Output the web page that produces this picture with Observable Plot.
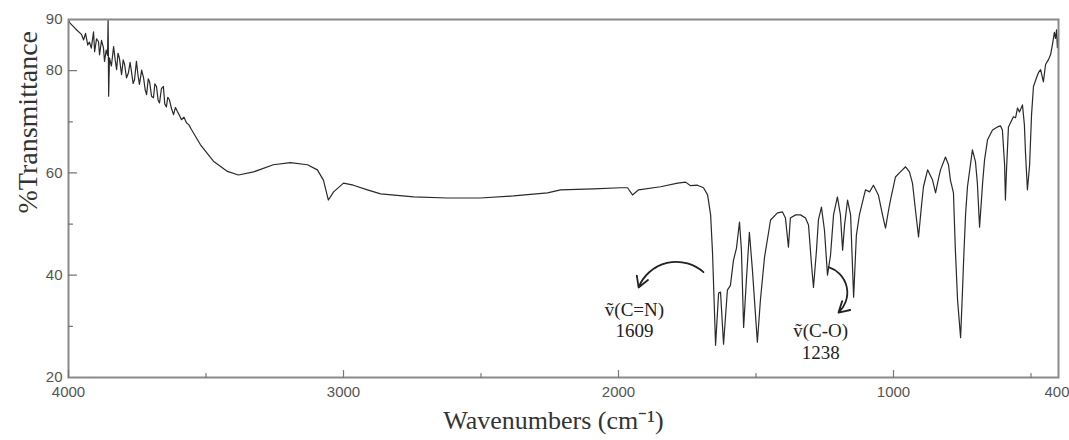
<!DOCTYPE html>
<html><head><meta charset="utf-8">
<script src="https://cdn.jsdelivr.net/npm/d3@7"></script>
<script src="https://cdn.jsdelivr.net/npm/@observablehq/plot@0.6"></script>
<style>body{margin:0;background:#fff;}</style>
</head><body><div id="chart"></div>
<script>
const wavenumber = [4000,3996,3975,3953,3945,3938,3930,3924,3917,3909,3905,3898,3891,3887,3880,3873,3869,3863,3858,3856,3854,3851,3844,3836,3830,3825,3820,3815,3807,3801,3796,3789,3782,3776,3771,3765,3760,3753,3747,3742,3734,3727,3721,3716,3710,3705,3698,3691,3686,3680,3674,3669,3662,3655,3650,3644,3639,3633,3625,3618,3611,3604,3596,3589,3580,3571,3562,3553,3520,3473,3422,3382,3327,3255,3193,3131,3095,3073,3055,3036,3000,2964,2913,2865,2745,2622,2502,2382,2258,2211,2091,1993,1967,1949,1927,1847,1785,1756,1738,1713,1691,1676,1665,1658,1647,1636,1629,1618,1604,1593,1582,1571,1560,1553,1545,1535,1524,1513,1495,1484,1476,1469,1447,1422,1404,1393,1382,1375,1356,1338,1320,1309,1298,1291,1280,1273,1262,1251,1240,1229,1218,1204,1193,1185,1178,1167,1156,1145,1135,1124,1102,1087,1073,1055,1040,1029,1018,1011,993,975,956,942,931,920,909,898,891,876,858,847,836,829,811,800,793,782,775,767,756,749,745,738,731,713,702,695,687,676,669,658,640,622,611,604,596,593,589,582,564,556,549,542,531,524,520,513,505,498,491,480,473,465,455,447,436,429,422,415,411,407,404,400];
const transmittance = [90,89.4,88.2,87.1,86.0,87.3,85.0,85.6,84.4,87.6,83.7,86.2,85.7,83.1,85.9,84.5,81.8,84.0,83.0,90,75,82.5,80.9,84.7,82.0,80.2,83.4,82.5,79.2,82.1,81.2,78.6,79.6,81.6,79.8,77.5,78.2,81.8,79.0,77.3,80.1,78.6,76.2,75.3,78.4,77.8,75.0,74.7,77.4,76.9,74.2,73.7,76.5,76.9,73.5,72.9,74.8,74.3,72.5,71.4,72.8,72.0,71.2,70.4,70.9,69.8,69.4,68.5,65.5,62.3,60.3,59.6,60.2,61.6,62.0,61.6,60.6,58.6,54.7,56.3,58.0,57.6,56.7,55.9,55.3,55.1,55.1,55.5,56.1,56.7,56.9,57.1,57.1,55.7,56.7,57.3,58.0,58.2,57.5,57.6,57.1,55.7,51.8,44.3,26.3,36.5,36.7,26.5,37.1,38.0,42.9,45.3,50.4,44.9,29.8,39.0,48.4,41.0,26.9,35.1,39.6,43.5,50.8,52.2,52.4,51.2,45.5,51.2,51.8,51.8,51.2,49.8,42.0,37.6,44.9,50.8,53.3,48.8,40.0,43.9,51.8,55.3,51.8,44.9,49.8,54.7,51.8,35.7,47.8,51.8,56.7,56.3,57.6,55.7,51.8,49.2,52.7,54.7,59.2,60.2,61.2,60.2,58.0,52.7,47.5,53.7,57.3,60.6,58.6,56.1,59.0,60.6,63.1,61.6,58.6,56.1,44.9,35.1,27.8,37.1,42.9,51.8,57.3,64.5,62.2,58.0,49.4,58.0,62.5,66.5,68.4,69.0,69.2,68.4,61.6,54.7,60.6,69.0,71.0,70.8,72.7,71.9,73.3,69.4,63.9,56.7,61.6,71.4,76.9,78.6,79.6,80.2,77.8,81.2,82.2,83.1,85.1,87.5,86.3,88.0,84.5,86.5];

const xMinorTicks = [3500,2500,1500,500];
const xMajorTicks = [4000,3000,2000,1000];
const xTickLabels = [4000,3000,2000,1000];
const xEndLabel = [400];
const yMinorTicks = [30,50,70];
const yMajorTicks = [40,60,80];
const yTickLabels = [20,40,60,80,90];
const xTitle = "Wavenumbers (cm⁻¹)";
const yTitle = "%Transmittance";
const annotationLabels = ["ṽ(C=N)","1609","ṽ(C-O)","1238"];
const annotationX = [1942,1942,1265,1265];
const annotationY = [33.3,29.2,29.2,24.9];
const arrowFromX = [1691,1236];
const arrowFromY = [40.6,41.6];
const arrowToX = [1927,1200];
const arrowToY = [37.6,32.7];

const spectrum = wavenumber.map((w,i)=>({w, t: transmittance[i]}));
const notes = annotationLabels.map((s,i)=>({s, x: annotationX[i], y: annotationY[i]}));
const arrows = arrowFromX.map((x1,i)=>({x1, y1: arrowFromY[i], x2: arrowToX[i], y2: arrowToY[i]}));

const tickShape = {draw(context, l){ context.moveTo(0,0); context.lineTo(0,-l); }};
const serif = "'Liberation Serif','Times New Roman',serif";
const sans = "'Liberation Sans',Arial,sans-serif";

const chart = Plot.plot({
  width: 1069, height: 440,
  marginLeft: 68, marginRight: 11, marginTop: 19, marginBottom: 63,
  x: {domain: [4000, 400]},
  y: {domain: [20, 90]},
  style: {background: "#fff", fontFamily: sans},
  marks: [
    Plot.line(spectrum, {x: "w", y: "t", stroke: "#2a2a2a", strokeWidth: 1.2, clip: true}),
    Plot.frame({stroke: "#8a8a8a", strokeWidth: 2}),
    Plot.vector(xMajorTicks, {x: d=>d, frameAnchor: "bottom", length: 7, anchor: "start", shape: tickShape, stroke: "#777", strokeWidth: 1.2}),
    Plot.vector(xMinorTicks, {x: d=>d, frameAnchor: "bottom", length: 4, anchor: "start", shape: tickShape, stroke: "#777", strokeWidth: 1.2}),
    Plot.vector(yMajorTicks, {y: d=>d, frameAnchor: "left", length: 8, rotate: 90, anchor: "start", shape: tickShape, stroke: "#777", strokeWidth: 1.2}),
    Plot.vector(yMinorTicks, {y: d=>d, frameAnchor: "left", length: 4, rotate: 90, anchor: "start", shape: tickShape, stroke: "#777", strokeWidth: 1.2}),
    Plot.axisX(xTickLabels, {tickSize: 0, tickPadding: 9, fontSize: 15, fill: "#555", label: null, tickFormat: d=>String(d)}),
    Plot.axisX(xEndLabel, {tickSize: 0, tickPadding: 9, fontSize: 15, fill: "#555", label: null, textAnchor: "end", dx: 11, tickFormat: d=>String(d)}),
    Plot.axisY(yTickLabels, {tickSize: 0, tickPadding: 6, fontSize: 15, fill: "#555", label: null, tickFormat: d=>String(d)}),
    Plot.text([yTitle], {frameAnchor: "left", dx: -40, dy: 15, rotate: -90, fontSize: 28, fontFamily: serif, fill: "#333"}),
    Plot.text([xTitle], {frameAnchor: "bottom", dx: -10, dy: 51, fontSize: 26, fontFamily: serif, fill: "#333"}),
    Plot.text(notes, {x: "x", y: "y", text: "s", fontSize: 19, fontFamily: serif, fill: "#222"}),
    Plot.arrow(arrows.slice(0,1), {x1: "x1", y1: "y1", x2: "x2", y2: "y2", bend: -55, stroke: "#222", strokeWidth: 1.8, headLength: 10}),
    Plot.arrow(arrows.slice(1,2), {x1: "x1", y1: "y1", x2: "x2", y2: "y2", bend: 60, stroke: "#222", strokeWidth: 1.8, headLength: 10})
  ]
});
document.getElementById("chart").appendChild(chart);
</script>
</body></html>
